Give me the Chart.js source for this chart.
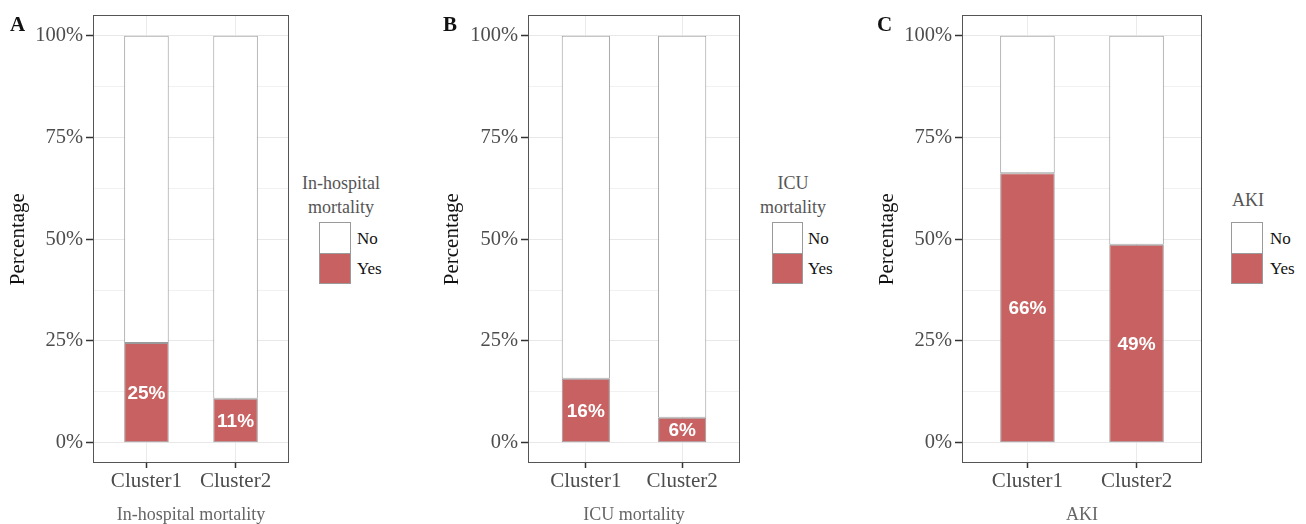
<!DOCTYPE html>
<html>
<head>
<meta charset="utf-8">
<script src="https://cdn.jsdelivr.net/npm/chart.js@4.4.1/dist/chart.umd.min.js"></script>
<style>
  body { margin: 0; width: 1306px; height: 524px; background: #fff; position: relative; overflow: hidden; font-family: "Liberation Serif", serif; }
  canvas { position: absolute; top: 0; }
  .tag { position: absolute; top: 14px; font-weight: bold; font-size: 21px; line-height: 21px; color: #111; }
  .leg-title { position: absolute; text-align: center; color: #555; font-size: 18px; line-height: 24px; white-space: nowrap; transform: translateX(-50%); }
  .key { position: absolute; box-sizing: border-box; border: 1px solid #9a9a9a; }
  .key-label { position: absolute; font-size: 17px; line-height: 20px; color: #111; }
</style>
</head>
<body>
<script>
// data
const clusters = ["Cluster1", "Cluster2"];
const outcomes = ["No", "Yes"];
const panelTags = ["A", "B", "C"];
const xTitles = ["In-hospital mortality", "ICU mortality", "AKI"];
const legendTitles = [["In-hospital", "mortality"], ["ICU", "mortality"], ["AKI"]];
const yesHospital = [24.5, 10.8];
const noHospital = [75.5, 89.2];
const yesIcu = [15.7, 6.1];
const noIcu = [84.3, 93.9];
const yesAki = [66.2, 48.6];
const noAki = [33.8, 51.4];
const yGrid = [0, 12.5, 25, 37.5, 50, 62.5, 75, 87.5, 100];

const yesSeries = [yesHospital, yesIcu, yesAki];
const noSeries = [noHospital, noIcu, noAki];

const RED = "#c86262";

// layout of each panel (pixels)
const panels = [
  { left: 0,   width: 300, axisW: 93, padR: 11, tagX: 10,
    legTitleX: 341, legTitleTop: 171, keyX: 319, keyW: 32, keyTop: 222, labelX: 357 },
  { left: 434, width: 316, axisW: 94, padR: 10, tagX: 443,
    legTitleX: 793, legTitleTop: 171, keyX: 772, keyW: 31, keyTop: 222, labelX: 808 },
  { left: 869, width: 343, axisW: 93, padR: 10, tagX: 877,
    legTitleX: 1248, legTitleTop: 188, keyX: 1231, keyW: 32, keyTop: 222, labelX: 1270 }
];

Chart.defaults.font.family = '"Liberation Serif", serif';

const barLabels = {
  id: "barLabels",
  afterDatasetsDraw(chart) {
    const ctx = chart.ctx;
    const meta = chart.getDatasetMeta(0);
    const values = chart.data.datasets[0].data;
    ctx.save();
    ctx.fillStyle = "#fff";
    ctx.font = 'bold 19px "Liberation Sans", Arial, sans-serif';
    ctx.textAlign = "center";
    ctx.textBaseline = "middle";
    meta.data.forEach((bar, i) => {
      const { x, y, base } = bar.getProps(["x", "y", "base"], true);
      ctx.fillText(Math.round(values[i].y) + "%", x, (y + base) / 2 + 1);
    });
    ctx.restore();
  }
};

const panelBorder = {
  id: "panelBorder",
  afterDraw(chart) {
    const { ctx, chartArea: a } = chart;
    ctx.save();
    ctx.strokeStyle = "#555";
    ctx.lineWidth = 1;
    ctx.strokeRect(Math.round(a.left) + 0.5, Math.round(a.top) + 0.5,
      Math.round(a.right - a.left) - 1, Math.round(a.bottom - a.top) - 1);
    ctx.restore();
  }
};

function addDiv(cls, text, style) {
  const d = document.createElement("div");
  d.className = cls;
  if (text) d.textContent = text;
  Object.assign(d.style, style);
  document.body.appendChild(d);
  return d;
}

panels.forEach((p, k) => {
  const canvas = document.createElement("canvas");
  canvas.width = p.width;
  canvas.height = 524;
  canvas.style.left = p.left + "px";
  document.body.appendChild(canvas);

  new Chart(canvas, {
    type: "bar",
    data: {
      datasets: [
        { label: outcomes[1], data: yesSeries[k].map((v, i) => ({ x: i + 1, y: v })),
          backgroundColor: RED, borderColor: "#9a9a9a", borderWidth: 1, borderSkipped: false },
        { label: outcomes[0], data: noSeries[k].map((v, i) => ({ x: i + 1, y: v })),
          backgroundColor: "#fff", borderColor: "#9a9a9a", borderWidth: 1, borderSkipped: false }
      ]
    },
    options: {
      responsive: false,
      animation: false,
      events: [],
      categoryPercentage: 1,
      barPercentage: 0.5,
      layout: { padding: { top: 15, right: p.padR, left: 0, bottom: 0 } },
      plugins: { legend: { display: false }, tooltip: { enabled: false } },
      scales: {
        x: {
          type: "linear",
          stacked: true,
          offset: false,
          min: 0.4,
          max: 2.6,
          afterBuildTicks: (s) => { s.ticks = clusters.map((c, i) => ({ value: i + 1 })); },
          afterFit: (s) => { s.height = 61; },
          border: { display: false },
          grid: { offset: false, color: "#ebebeb", lineWidth: 1, tickLength: 5, tickColor: "#333", tickWidth: 1.5 },
          ticks: {
            autoSkip: false, maxRotation: 0, padding: 1, color: "#4d4d4d",
            font: { size: 21 },
            callback: (v) => clusters[v - 1]
          },
          title: { display: true, text: xTitles[k], color: "#666",
            font: { size: 18, lineHeight: 1 }, padding: { top: 0, bottom: 0 } }
        },
        y: {
          stacked: true,
          min: -5,
          max: 105,
          afterBuildTicks: (s) => { s.ticks = yGrid.map(v => ({ value: v })); },
          afterFit: (s) => { s.width = p.axisW; },
          border: { display: false },
          grid: {
            color: (c) => (c.tick && c.tick.value % 25 === 0) ? "#e8e8e8" : "#f1f1f1",
            lineWidth: 1,
            tickLength: 7,
            tickWidth: 1.5,
            tickColor: (c) => (c.tick && c.tick.value % 25 === 0) ? "#333" : "rgba(0,0,0,0)"
          },
          ticks: {
            autoSkip: false, padding: 3, color: "#4d4d4d",
            font: { size: 20.5 },
            callback: (v) => v % 25 === 0 ? v + "%" : ""
          },
          title: { display: true, text: "Percentage", color: "#111",
            font: { size: 21, lineHeight: 1 }, padding: { top: 8, bottom: 0 } }
        }
      }
    },
    plugins: [barLabels, panelBorder]
  });

  addDiv("tag", panelTags[k], { left: p.tagX + "px" });

  const t = addDiv("leg-title", "", { left: p.legTitleX + "px", top: p.legTitleTop + "px" });
  t.innerHTML = legendTitles[k].join("<br>");

  addDiv("key", "", { left: p.keyX + "px", top: p.keyTop + "px", width: p.keyW + "px", height: "32px", background: "#fff" });
  addDiv("key", "", { left: p.keyX + "px", top: (p.keyTop + 31) + "px", width: p.keyW + "px", height: "31px", background: RED });
  addDiv("key-label", outcomes[0], { left: p.labelX + "px", top: (p.keyTop + 7) + "px" });
  addDiv("key-label", outcomes[1], { left: p.labelX + "px", top: (p.keyTop + 37) + "px" });
});
</script>
</body>
</html>
